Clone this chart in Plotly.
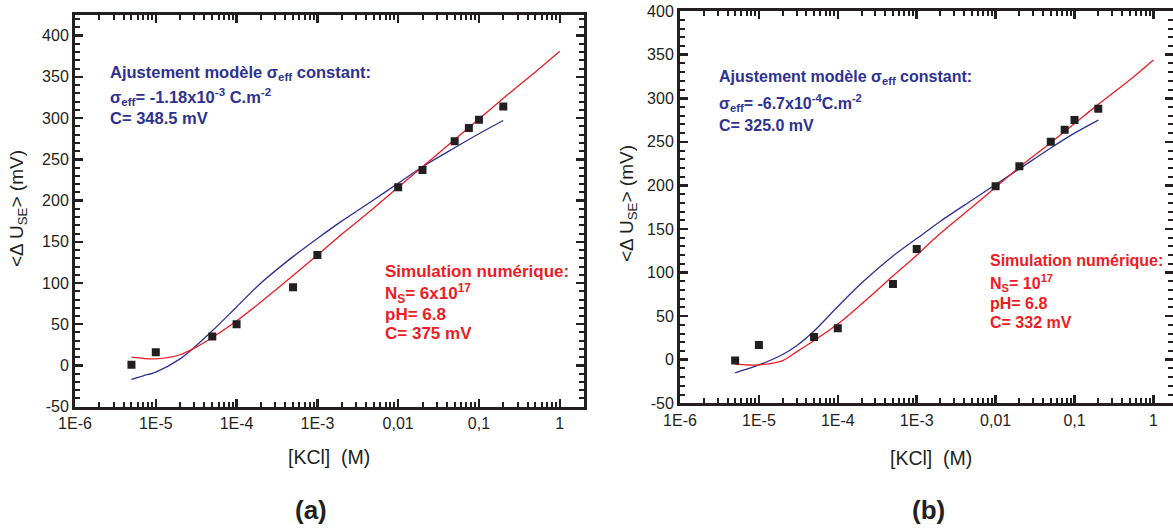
import plotly.graph_objects as go

# ---------------- data ----------------
conc = [5e-6, 1e-5, 5e-5, 1e-4, 5e-4, 1e-3, 0.01, 0.02, 0.05, 0.075, 0.1, 0.2]
du_a = [1, 16, 35, 50, 95, 134, 216, 237, 272, 288, 298, 314]
du_b = [-1, 17, 26, 36, 87, 127, 199, 222, 250, 264, 275, 288]

fit_a_x = [5e-6, 7e-6, 1e-5, 2e-5, 3e-5, 5e-5, 1e-4, 2e-4, 5e-4, 1e-3, 2e-3, 5e-3, 1e-2, 2e-2, 5e-2, 1e-1, 2e-1]
fit_a_y = [-17, -12.5, -8, 8, 22, 42, 71, 100, 132, 154, 175, 201, 221, 241, 264, 281, 297]
sim_a_x = [5e-6, 7e-6, 1e-5, 2e-5, 3e-5, 5e-5, 1e-4, 2e-4, 5e-4, 1e-3, 2e-3, 5e-3, 1e-2, 2e-2, 5e-2, 1e-1, 2e-1, 5e-1, 1]
sim_a_y = [10, 8.5, 8, 13, 21, 34, 54, 77, 109, 134, 159, 191, 216, 241, 274, 299, 324, 356, 381]

fit_b_x = [5e-6, 1e-5, 2e-5, 3e-5, 5e-5, 1e-4, 2e-4, 5e-4, 1e-3, 2e-3, 5e-3, 1e-2, 2e-2, 5e-2, 1e-1, 2e-1]
fit_b_y = [-15, -6, 6, 16, 33, 61, 88, 119, 139, 159, 183, 201, 219, 243, 260, 275]
sim_b_x = [5e-6, 7e-6, 1e-5, 2e-5, 3e-5, 5e-5, 1e-4, 2e-4, 5e-4, 1e-3, 2e-3, 5e-3, 1e-2, 2e-2, 5e-2, 1e-1, 2e-1, 5e-1, 1]
sim_b_y = [-5, -6, -6, -1, 9, 22, 41, 64, 96, 120, 145, 175, 198, 221, 249, 271, 293, 321, 344]

x_tickvals = [1e-6, 1e-5, 1e-4, 1e-3, 1e-2, 1e-1, 1]
x_ticktext = ["1E-6", "1E-5", "1E-4", "1E-3", "0,01", "0,1", "1"]
y_tickvals = [-50, 0, 50, 100, 150, 200, 250, 300, 350, 400]
y_ticktext = ["-50", "0", "50", "100", "150", "200", "250", "300", "350", "400"]

# ---------------- style ----------------
W, H = 1173, 529
FONT = "Liberation Sans, Arial, sans-serif"
INK = "#231f20"
BLUE = "#2e3192"
RED = "#ed1c24"


def px(x):
    return x / W


def py(y):
    return 1 - y / H


fig = go.Figure()

for xs, ys, col, xa, ya in [
    (fit_a_x, fit_a_y, BLUE, "x", "y"),
    (sim_a_x, sim_a_y, RED, "x", "y"),
    (fit_b_x, fit_b_y, BLUE, "x2", "y2"),
    (sim_b_x, sim_b_y, RED, "x2", "y2"),
]:
    fig.add_trace(go.Scatter(x=xs, y=ys, mode="lines",
                             line=dict(color=col, width=1.3, shape="spline", smoothing=0.8),
                             xaxis=xa, yaxis=ya, showlegend=False, hoverinfo="skip"))

for ys, xa, ya in [(du_a, "x", "y"), (du_b, "x2", "y2")]:
    fig.add_trace(go.Scatter(x=conc, y=ys, mode="markers",
                             marker=dict(symbol="square", size=8, color=INK),
                             xaxis=xa, yaxis=ya, showlegend=False))


def xaxis(domain, rng, anchor):
    return dict(type="log", domain=domain, range=rng, anchor=anchor, automargin=False,
                tickvals=x_tickvals, ticktext=x_ticktext,
                ticks="inside", ticklen=8, tickwidth=2.5, tickcolor=INK,
                showline=True, linewidth=3, linecolor=INK, mirror="allticks",
                showgrid=False, zeroline=False,
                minor=dict(ticks="inside", ticklen=5, tickwidth=2, tickcolor=INK,
                           dtick="D1"),
                tickfont=dict(family=FONT, size=16, color=INK))


def yaxis(domain, rng, anchor):
    return dict(domain=domain, range=rng, anchor=anchor, automargin=False,
                tickvals=y_tickvals, ticktext=y_ticktext,
                ticks="inside", ticklen=8, tickwidth=2.5, tickcolor=INK,
                showline=True, linewidth=3, linecolor=INK, mirror="allticks",
                showgrid=False, zeroline=False,
                minor=dict(ticks="inside", ticklen=5, tickwidth=2, tickcolor=INK,
                           tick0=0, dtick=10),
                tickfont=dict(family=FONT, size=16, color=INK))


fig.update_layout(
    width=W, height=H,
    margin=dict(l=0, r=0, t=0, b=0, autoexpand=False),
    paper_bgcolor="white", plot_bgcolor="white",
    xaxis=xaxis([px(75), px(584)], [-6, 0.3], "y"),
    yaxis=yaxis([py(406.7), py(15)], [-50, 425], "x"),
    xaxis2=xaxis([px(680), 1.0], [-6, 0.248], "y2"),
    yaxis2=yaxis([py(403.3), py(10.7)], [-50, 400.5], "x2"),
)

ann = []


def text(x, y, s, size, color=INK, bold=False, angle=0, xanchor="left"):
    if bold:
        s = "<b>" + s + "</b>"
    ann.append(dict(x=px(x), y=py(y), xref="paper", yref="paper", text=s,
                    showarrow=False, xanchor=xanchor, yanchor="middle",
                    textangle=angle,
                    font=dict(family=FONT, size=size, color=color)))


# axis titles
ytitle = "&lt;\u0394 U<sub>SE</sub>&gt; (mV)"
text(18, 209, ytitle, 19, angle=-90, xanchor="center")
text(628, 204, ytitle, 19, angle=-90, xanchor="center")
text(329, 457, "[KCl]\u00a0\u00a0(M)", 19.5, xanchor="center")
text(931, 458, "[KCl]\u00a0\u00a0(M)", 19.5, xanchor="center")
text(311, 510, "(a)", 26, bold=True, xanchor="center")
text(928, 510, "(b)", 26, bold=True, xanchor="center")

# panel (a) annotations
text(108, 73, "Ajustement modèle \u03c3<sub>eff</sub> constant:", 16.5, BLUE, True)
text(108, 97, "\u03c3<sub>eff</sub>= -1.18x10<sup>-3</sup> C.m<sup>-2</sup>", 16.5, BLUE, True)
text(108, 118, "C= 348.5 mV", 16.5, BLUE, True)
text(383, 271, "Simulation numérique:", 17, RED, True)
text(383, 293, "N<sub>S</sub>= 6x10<sup>17</sup>", 17, RED, True)
text(383, 314, "pH= 6.8", 17, RED, True)
text(383, 333, "C= 375 mV", 17, RED, True)

# panel (b) annotations
text(717, 78, "Ajustement modèle \u03c3<sub>eff</sub> constant:", 16, BLUE, True)
text(717, 103, "\u03c3<sub>eff</sub>= -6.7x10<sup>-4</sup>C.m<sup>-2</sup>", 16, BLUE, True)
text(717, 125, "C= 325.0 mV", 16, BLUE, True)
text(988, 260, "Simulation numérique:", 16, RED, True)
text(988, 283, "N<sub>S</sub>= 10<sup>17</sup>", 16, RED, True)
text(988, 303, "pH= 6.8", 16, RED, True)
text(988, 322, "C= 332 mV", 16, RED, True)

fig.update_layout(annotations=ann)

fig.write_html("out.html",
               config={"displayModeBar": False, "staticPlot": True},
               post_script="document.body.style.margin='0';document.body.style.overflow='hidden';")
